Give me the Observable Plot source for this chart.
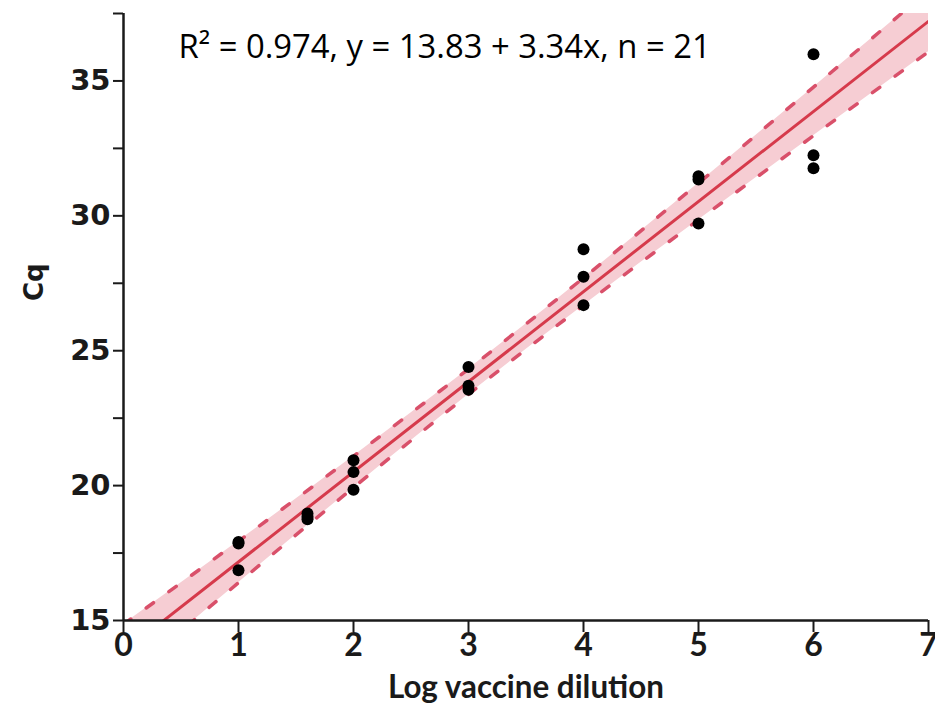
<!DOCTYPE html>
<html><head><meta charset="utf-8">
<script src="https://cdn.jsdelivr.net/npm/d3@7"></script>
<script src="https://cdn.jsdelivr.net/npm/@observablehq/plot@0.6"></script>
<style>body{margin:0;background:#fff;overflow:hidden}</style>
</head><body><div id="chart"></div>
<script>
// Data
const dilution = [1, 1, 1, 1.6, 1.6, 1.6, 2, 2, 2, 3, 3, 3, 4, 4, 4, 5, 5, 5, 6, 6, 6];
const cq = [17.91, 17.85, 16.86, 18.97, 18.85, 18.75, 20.94, 20.5, 19.85, 24.4, 23.7, 23.55,
            28.76, 27.74, 26.69, 31.47, 31.35, 29.72, 35.99, 32.25, 31.76];
const fitX = [0, 7];
const fitY = [13.83, 37.21];
const bandX = [0, 1, 2, 3, 4, 5, 6, 7];
const bandLow = [12.80, 16.40, 19.93, 23.38, 26.68, 29.85, 32.97, 36.08];
const bandHigh = [14.86, 17.94, 21.09, 24.32, 27.70, 31.21, 34.77, 38.34];
const yMajor = [15, 20, 25, 30, 35];
const yMinor = [17.5, 22.5, 27.5, 32.5, 37.5];
const xTicks = [0, 1, 2, 3, 4, 5, 6, 7];
const titleText = "R² = 0.974, y = 13.83 + 3.34x, n = 21";
const xLabel = "Log vaccine dilution";
const yLabel = "Cq";

const points = dilution.map((d, i) => ({x: d, y: cq[i]}));
const fit = fitX.map((d, i) => ({x: d, y: fitY[i]}));
const band = bandX.map((d, i) => ({x: d, lo: bandLow[i], hi: bandHigh[i]}));

const wideFont = "'DejaVu Sans', Verdana, sans-serif";
const narrowFont = "Lato, 'Liberation Sans', sans-serif";
const ink = "#1a1a1a";

const plot = Plot.plot({
  width: 935, height: 717,
  marginLeft: 123, marginRight: 7, marginTop: 13, marginBottom: 97,
  x: {domain: [0, 7]},
  y: {domain: [15, 37.5]},
  style: {fontFamily: wideFont, background: "white", overflow: "visible"},
  marks: [
    Plot.areaY(band, {x: "x", y1: "lo", y2: "hi", fill: "#f6cdd3", curve: "natural", clip: true}),
    Plot.line(band, {x: "x", y: "lo", stroke: "#d9506a", strokeWidth: 3.5, strokeDasharray: "9,19", curve: "natural", clip: true}),
    Plot.line(band, {x: "x", y: "hi", stroke: "#d9506a", strokeWidth: 3.5, strokeDasharray: "9,19", curve: "natural", clip: true}),
    Plot.line(fit, {x: "x", y: "y", stroke: "#d63a4b", strokeWidth: 3, clip: true}),
    Plot.dot(points, {x: "x", y: "y", r: 6, fill: "black"}),
    Plot.axisY(yMajor, {tickSize: 10, tickPadding: 3, fontSize: 29, fontWeight: "bold", fontFamily: wideFont, label: null, stroke: ink, strokeWidth: 2, fill: ink}),
    Plot.axisY(yMinor, {tickSize: 10, tickFormat: () => "", label: null, stroke: ink, strokeWidth: 2}),
    Plot.axisX(xTicks, {tickSize: 12, tickPadding: 1, fontSize: 32, fontWeight: "bold", fontFamily: narrowFont, tickFormat: d => String(d), label: null, stroke: ink, strokeWidth: 2, fill: ink}),
    Plot.ruleX([0], {stroke: ink, strokeWidth: 2.5}),
    Plot.ruleY([15], {stroke: ink, strokeWidth: 2.5}),
    Plot.text([titleText], {frameAnchor: "top-left", textAnchor: "start", lineAnchor: "top", dx: 55, dy: 21,
      fontSize: 32.8, fontFamily: "'Open Sans', Lato, sans-serif", fill: "black"}),
    Plot.text([xLabel], {frameAnchor: "bottom", dy: 77, fontSize: 32, fontWeight: "bold", fontFamily: narrowFont, fill: ink, className: "xlab"}),
    Plot.text([yLabel], {frameAnchor: "left", dx: -89, dy: -16, rotate: -90, fontSize: 26, fontWeight: "bold", fontFamily: wideFont, fill: ink})
  ]
});
// condense the x-axis title to the reference's narrow lettering
d3.select(plot).selectAll(".xlab text").attr("textLength", 276).attr("lengthAdjust", "spacingAndGlyphs");
document.getElementById("chart").appendChild(plot);
</script>
</body></html>
